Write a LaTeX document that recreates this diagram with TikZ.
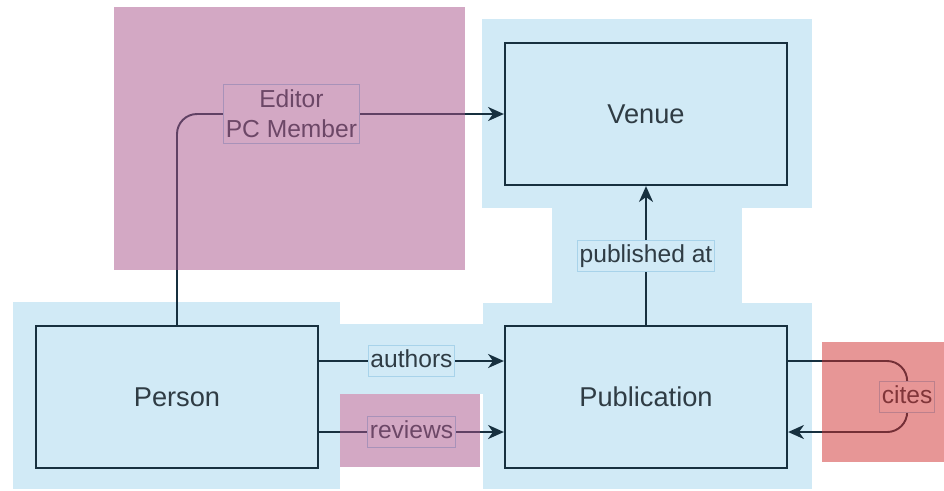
\documentclass[tikz,border=0pt]{standalone}
\usepackage{fontspec}
\setmainfont{Liberation Sans}
\usetikzlibrary{arrows.meta}
\definecolor{lightblue}{HTML}{D1EAF6}
\definecolor{labelline}{HTML}{A8D3EA}
\definecolor{darkline}{HTML}{17303F}
\definecolor{textgray}{HTML}{2F3C44}
\definecolor{mauve}{HTML}{A9538A}
\definecolor{rose}{HTML}{D12F2F}

\begin{document}
\begin{tikzpicture}[node distance={15mm},
    entity/.style = {draw=darkline, line width=1.3pt, fill=lightblue, minimum width=5.64cm, minimum height=2.84cm, font=\fontsize{15.5}{18}\selectfont, text=textgray},
    rel/.style = {draw=labelline, line width=0.4pt, fill=lightblue, sharp corners, inner xsep=1.3pt, inner ysep=2.5pt, text height=1.95ex, text depth=0.45ex, font=\fontsize{14}{17}\selectfont, text=textgray},
    relw/.style = {rel, fill=white},
    edge/.style = {-{Stealth[length=9pt, width=8pt, inset=2.8pt]}, line width=1.1pt, draw=darkline}]
    \useasboundingbox (0,0) rectangle (18.88,-9.8);
    \fill[white] (0,0) rectangle (18.88,-9.8);
    % shaded areas behind the boxes
    \fill[lightblue] (0.26,-6.04) rectangle (6.8,-9.78);
    \fill[lightblue] (6.8,-6.48) rectangle (9.66,-7.88);
    \fill[lightblue] (9.66,-6.06) rectangle (16.24,-9.78);
    \fill[lightblue] (11.04,-4.16) rectangle (14.84,-6.06);
    \fill[lightblue] (9.64,-0.38) rectangle (16.24,-4.16);
        \node[entity] (person) at (3.54,-7.94) {Person};
        \node[entity] (publication) [right of=person, xshift=7.88cm] {Publication};
        \node[entity] (venue) [above of=publication, yshift=4.16cm] {Venue};
        \draw[edge] ([yshift=0.72cm]person.east) -- node[rel] {authors} ([yshift=0.72cm]publication.west);
        \draw[edge] ([yshift=-0.7cm]person.east) -- node[relw] {reviews} ([yshift=-0.7cm]publication.west);
        \draw[edge] (publication) -- node[rel] {published at} (venue);
        \draw[edge, rounded corners=0.4cm] (person) |- node[relw, pos=0.675, align=center, inner ysep=3pt, text height=, text depth=] {Editor\\PC Member} (venue);
        \draw[edge, rounded corners=0.4cm] ([yshift=0.72cm]publication.east) -- ++(2.38,0) -- node[relw] {cites} ++(0,-1.42) -- ([yshift=-0.7cm]publication.east);
    % tinted overlays
    \fill[mauve, opacity=0.5] (2.28,-0.14) rectangle (9.3,-5.4);
    \fill[mauve, opacity=0.5] (6.8,-7.88) rectangle (9.6,-9.34);
    \fill[rose, opacity=0.5] (16.44,-6.84) rectangle (18.88,-9.24);
\end{tikzpicture}
\end{document}
